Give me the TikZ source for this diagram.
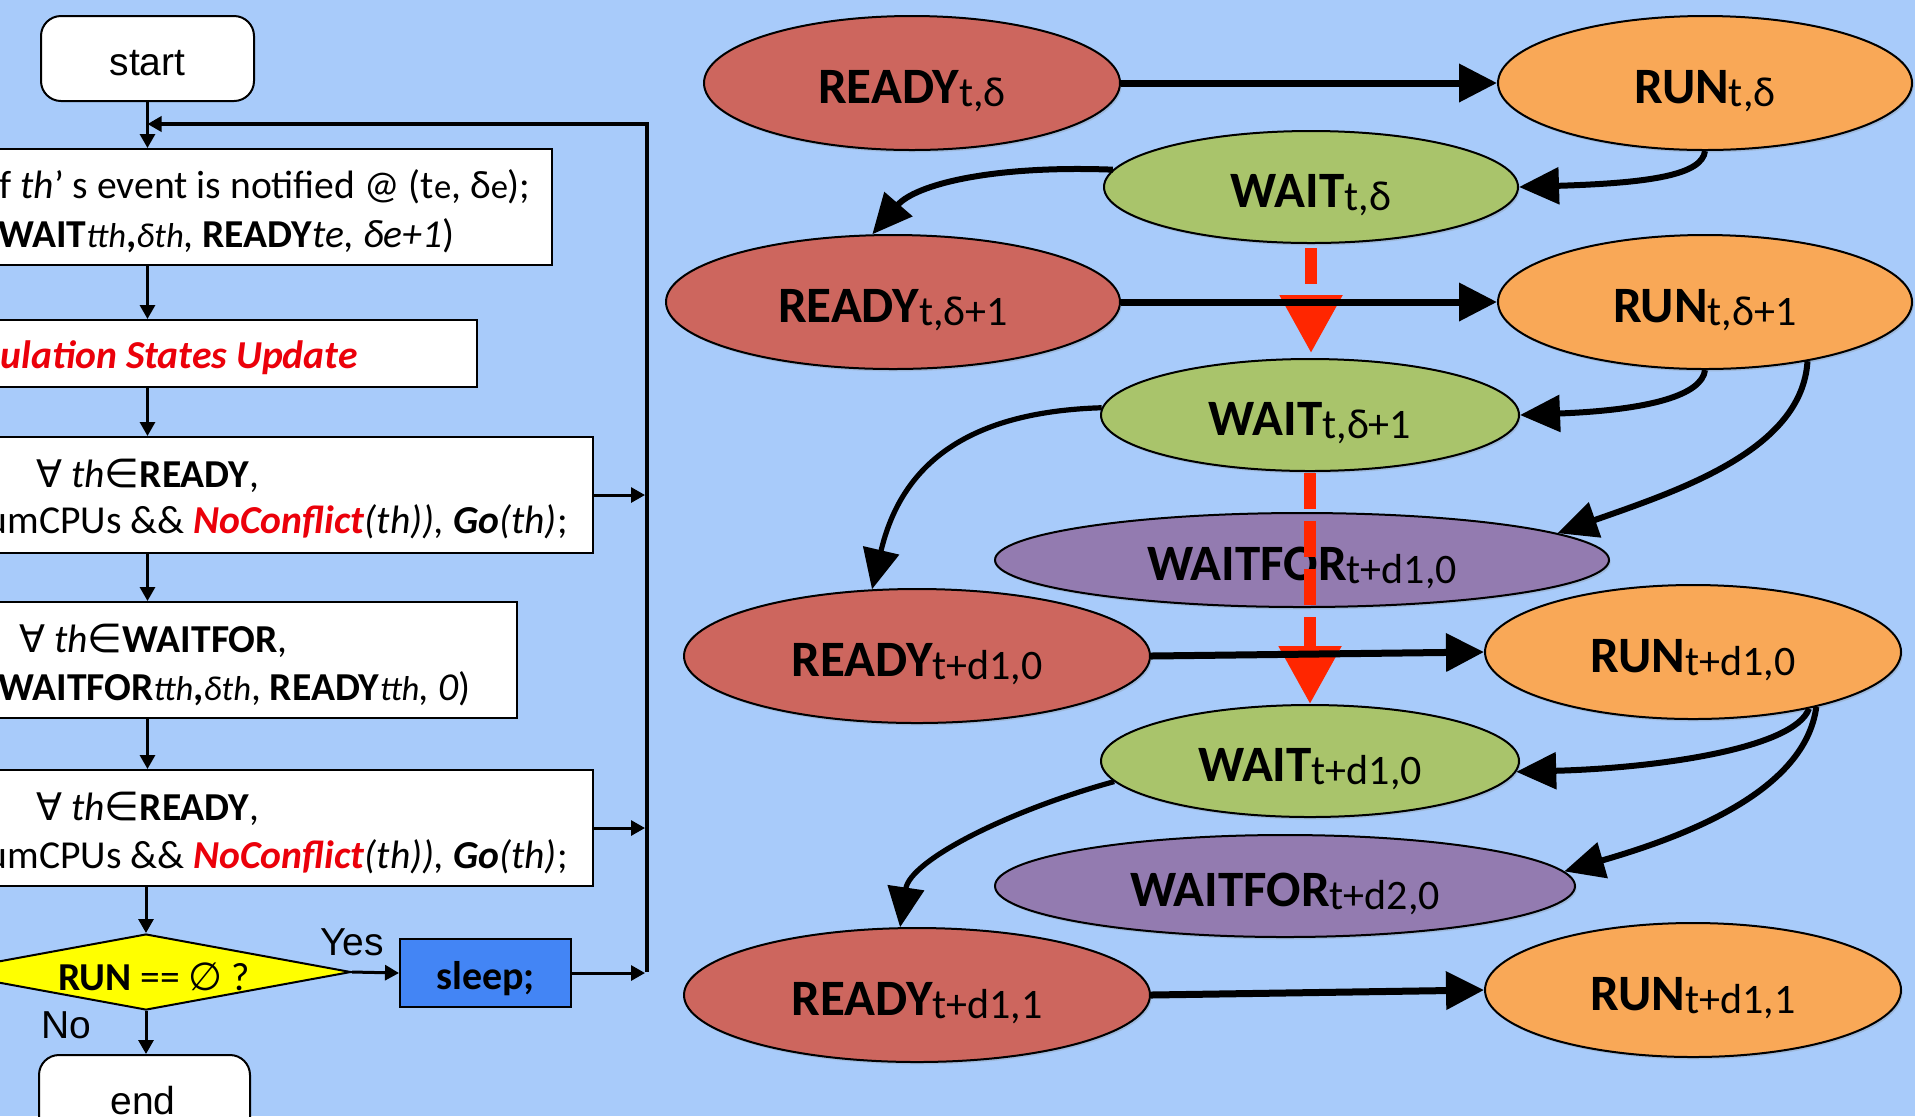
\documentclass[tikz,border=0pt]{standalone}
\usepackage{fontspec}
\setmainfont{Carlito}
\newfontfamily\arialf{Liberation Sans}
\newfontfamily\symf{DejaVu Sans}
\usetikzlibrary{shapes.geometric,arrows.meta,shadows}

\definecolor{bgblue}{RGB}{168,203,250}
\definecolor{readyc}{RGB}{205,102,94}
\definecolor{runc}{RGB}{249,168,87}
\definecolor{waitc}{RGB}{169,196,107}
\definecolor{waitforc}{RGB}{147,123,176}
\definecolor{redarr}{RGB}{255,38,0}
\definecolor{redtxt}{RGB}{235,0,10}
\definecolor{sleepc}{RGB}{67,133,245}
\definecolor{diac}{RGB}{255,255,0}

% state label: bold name followed by a smaller index
\newcommand{\stlab}[2]{{\fontsize{25.5}{29}\selectfont\bfseries #1}{\fontsize{21}{24}\selectfont\raisebox{-1.5pt}{#2}}}
% smaller index inside flowchart text
\newcommand{\sm}[1]{{\fontsize{17.3}{20}\selectfont #1}}
% quantifier symbols
\newcommand{\fa}{{\symf\fontsize{19}{20}\selectfont ∀}}
\newcommand{\inn}{{\symf\fontsize{20}{20}\selectfont ∈}}
\newcommand{\emp}{{\symf\fontsize{19.5}{20}\selectfont ∅}}

\tikzset{
  state/.style={ellipse, draw=black, line width=1pt, inner sep=0pt,
    text height=20pt, text depth=0pt,
    drop shadow={opacity=0.25, shadow xshift=0.8pt, shadow yshift=-1.2pt}},
  big/.style={-{Triangle[length=19pt,width=18.5pt]}, line width=3.5pt},
  bendarr/.style={-{Triangle[length=20pt,width=18pt]}, line width=3pt},
  redflow/.style={draw=redarr, line width=6pt, dash pattern=on 18pt off 6pt,
    -{Triangle[length=29pt,width=30pt]}},
  box/.style={draw, fill=white, line width=1pt, inner sep=0pt},
  flow/.style={-{Triangle[length=7pt,width=7.5pt]}, line width=1.5pt},
  txt/.style={inner sep=0pt, font=\fontsize{19.8}{23}\selectfont},
  atxt/.style={inner sep=0pt, font=\arialf\fontsize{19.5}{23}\selectfont},
}

\begin{document}
\begin{tikzpicture}[x=0.5pt,y=-0.5pt]
\useasboundingbox (0,0) rectangle (1915,1116);
\clip (0,0) rectangle (1915,1116);
\fill[bgblue] (0,0) rectangle (1915,1116);

% ---------------- flowchart ----------------
\node[box, rounded corners=10pt, minimum width=106.5pt, minimum height=42.5pt] (start) at (147.5,58.5) {};
\node[atxt] (starttxt) at (147.5,63) {start};

\node[box, minimum width=326.5pt, minimum height=58pt, anchor=east] (b1) at (553,207) {};
\node[txt, anchor=base east] (b1a) at (531,198) {f \textit{th}’ s event is notified @ (t\sm{e}, δ\sm{e});};
\node[txt, anchor=base east] (b1b) at (455,247) {\textbf{WAIT}\textit{\sm{tth}}\textbf{,}\textit{\sm{δth}}, \textbf{READY}\textit{te, δe+1})};

\node[box, minimum width=289pt, minimum height=33.5pt, anchor=east] (b2) at (478,353.5) {};
\node[txt, anchor=base east] (b2a) at (358,368) {\textcolor{redtxt}{\textbf{\textit{ulation States Update}}}};

\node[box, minimum width=347pt, minimum height=58pt, anchor=east] (b3) at (594,495) {};
\node[txt, anchor=base west] (b3a) at (36,487) {\fa\ \textit{th}\inn\textbf{READY},};
\node[txt, anchor=base east] (b3b) at (568,533) {umCPUs \&\& \textcolor{redtxt}{\textbf{\textit{NoConflict}}}\textit{(th)),} \textbf{\textit{Go}}\textit{(th)};};

\node[box, minimum width=309pt, minimum height=58pt, anchor=east] (b4) at (518,660) {};
\node[txt, anchor=base west] (b4a) at (19,652) {\fa\ \textit{th}\inn\textbf{WAITFOR},};
\node[txt, anchor=base east] (b4b) at (471,700) {\textbf{WAITFOR}\textit{\sm{tth}}\textbf{,}\textit{\sm{δth}}, \textbf{READY}\textit{\sm{tth}, 0})};

\node[box, minimum width=347pt, minimum height=58pt, anchor=east] (b5) at (594,828) {};
\node[txt, anchor=base west] (b5a) at (36,820) {\fa\ \textit{th}\inn\textbf{READY},};
\node[txt, anchor=base east] (b5b) at (568,868) {umCPUs \&\& \textcolor{redtxt}{\textbf{\textit{NoConflict}}}\textit{(th)),} \textbf{\textit{Go}}\textit{(th)};};

\node[diamond, draw, fill=diac, line width=1pt, inner sep=0pt, shape aspect=5.4,
      minimum width=205pt, minimum height=38pt] (dia) at (146,972) {};
\node[txt] (diatxt) at (154,977) {\textbf{RUN} == \emp\ ?};

\node[box, fill=sleepc, minimum width=85.5pt, minimum height=34pt, text height=16pt, text depth=0pt] (sleep) at (485.5,973)
  {\fontsize{20}{24}\selectfont\bfseries sleep;};

\node[box, rounded corners=10pt, minimum width=105.5pt, minimum height=42.5pt] (end) at (144.5,1097.5) {};
\node[atxt] (endtxt) at (143,1101) {end};

\node[atxt] (yes) at (352,942) {Yes};
\node[atxt] (no) at (66,1025) {No};

\coordinate (lt) at (647,124);
\coordinate (lb) at (647,972);

\draw[flow] (start.south) -- (start.south |- b1.north);
\draw[flow] (start.south |- b1.south) -- (start.south |- b2.north);
\draw[flow] (start.south |- b2.south) -- (start.south |- b3.north);
\draw[flow] (start.south |- b3.south) -- (start.south |- b4.north);
\draw[flow] (start.south |- b4.south) -- (start.south |- b5.north);
\draw[flow] (dia.north |- b5.south) -- (dia.north);
\draw[flow] (dia.south) -- (dia.south |- end.north);
\draw[flow] (dia.east) -- (sleep.west);

\draw[flow, shorten >=1pt] (b3.east) -- (b3.east -| lt);
\draw[flow, shorten >=1pt] (b5.east) -- (b5.east -| lt);
\draw[flow, shorten >=1pt] (sleep.east) -- (sleep.east -| lt);
\draw[flow, line width=1.7pt] (lb) -- (lt) -- (start.south |- lt);

% ---------------- state graph ----------------
\node[state, fill=readyc, minimum width=208pt, minimum height=67pt] (r0) at (912,83) {\stlab{READY}{t,δ}};
\node[state, fill=runc, minimum width=207pt, minimum height=67pt] (u0) at (1705,83) {\stlab{RUN}{t,δ}};
\node[state, fill=waitc, minimum width=207pt, minimum height=56pt] (w0) at (1311,187) {\stlab{WAIT}{t,δ}};
\node[state, fill=readyc, minimum width=227pt, minimum height=67pt] (r1) at (893,302) {\stlab{READY}{t,δ+1}};
\node[state, fill=runc, minimum width=207pt, minimum height=67pt] (u1) at (1705,302) {\stlab{RUN}{t,δ+1}};
\node[state, fill=waitc, minimum width=209pt, minimum height=56pt] (w1) at (1310,415) {\stlab{WAIT}{t,δ+1}};
\node[state, fill=waitforc, minimum width=307pt, minimum height=47pt] (f1) at (1302,560) {\stlab{WAITFOR}{t+d1,0}};
\node[state, fill=readyc, minimum width=233pt, minimum height=67pt] (r2) at (917,656) {\stlab{READY}{t+d1,0}};
\node[state, fill=runc, minimum width=208pt, minimum height=67pt] (u2) at (1693,652) {\stlab{RUN}{t+d1,0}};
\node[state, fill=waitc, minimum width=209pt, minimum height=56pt] (w2) at (1310,761) {\stlab{WAIT}{t+d1,0}};
\node[state, fill=waitforc, minimum width=290pt, minimum height=51pt] (f2) at (1285,886) {\stlab{WAITFOR}{t+d2,0}};
\node[state, fill=readyc, minimum width=233pt, minimum height=67pt] (r3) at (917,995) {\stlab{READY}{t+d1,1}};
\node[state, fill=runc, minimum width=208pt, minimum height=67pt] (u3) at (1693,990) {\stlab{RUN}{t+d1,1}};

% delta-cycle progression (red, dashed)
\draw[redflow, shorten <=2pt, shorten >=2.5pt] (w0.south) -- (w0.south |- w1.north);
\draw[redflow, shorten <=0.5pt] (w1.south) -- (w1.south |- w2.north);

% transitions
\draw[big] (r0.east) -- (u0.west);
\draw[big] (r1.east) -- (u1.west);
\draw[big] (r2.east) -- (u2.west);
\draw[big] (r3.east) -- (u3.west);

\draw[bendarr] (u0.south) .. controls (1702,175) and (1650,183) .. (w0.east);
\draw[bendarr] (w0.175) .. controls (990,165) and (915,185) .. (r1.107);
\draw[bendarr] (u1.south) .. controls (1702,395) and (1650,410) .. (w1.east);
\draw[bendarr] (u1.-30) .. controls (1802,450) and (1680,490) .. (f1.6);
\draw[bendarr, line width=2.6pt] (w1.178) .. controls (960,412) and (900,470) .. (r2.124);
\draw[bendarr] (u2.-26) .. controls (1795,748) and (1660,768) .. (w2.-3);
\draw[bendarr] (u2.-24) .. controls (1805,790) and (1690,835) .. (f2.3);
\draw[bendarr, line width=2.6pt] (w2.186) .. controls (1010,810) and (910,860) .. (r3.104);
\end{tikzpicture}
\end{document}
